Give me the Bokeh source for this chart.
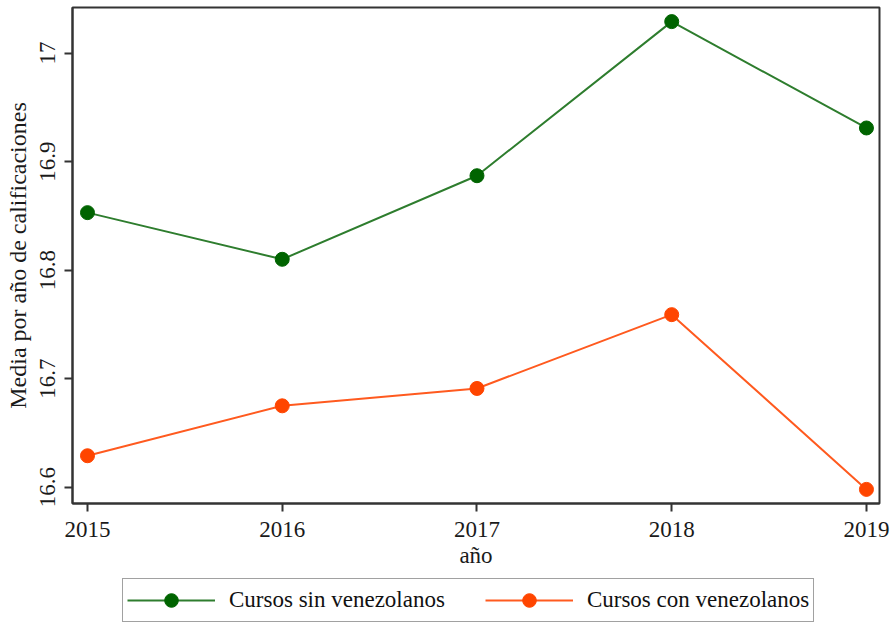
from bokeh.plotting import figure
from bokeh.models import Legend, LegendItem, FixedTicker, Range1d
from bokeh.layouts import column
from bokeh.embed import file_html
from bokeh.resources import INLINE

years = [2015, 2016, 2017, 2018, 2019]
sin_venez = [16.853, 16.810, 16.887, 17.029, 16.931]
con_venez = [16.629, 16.675, 16.691, 16.759, 16.598]
y_ticks = [16.6, 16.7, 16.8, 16.9, 17.0]
y_tick_labels = ["16.6", "16.7", "16.8", "16.9", "17"]
series_names = ["Cursos sin venezolanos", "Cursos con venezolanos"]

FONT = "Liberation Serif"
FS = "23px"
GREEN_LINE = "#2e7d2e"
GREEN_MARK = "#006400"
ORANGE_LINE = "#ff5a1f"
ORANGE_MARK = "#ff4500"

p = figure(width=892, height=576, output_backend="svg", toolbar_location=None,
           x_range=Range1d(2014.923, 2019.067), y_range=Range1d(16.585, 17.042),
           min_border_left=72, min_border_right=13, min_border_top=7, min_border_bottom=73)
p.background_fill_color = "white"
p.border_fill_color = "white"
p.outline_line_color = "#333333"
p.outline_line_width = 2
p.xgrid.visible = False
p.ygrid.visible = False

p.line(years, sin_venez, line_color=GREEN_LINE, line_width=2)
p.scatter(years, sin_venez, size=14, fill_color=GREEN_MARK, line_color=GREEN_MARK)
p.line(years, con_venez, line_color=ORANGE_LINE, line_width=2)
p.scatter(years, con_venez, size=14, fill_color=ORANGE_MARK, line_color=ORANGE_MARK)

for ax in (p.xaxis[0], p.yaxis[0]):
    ax.axis_line_color = "#333333"
    ax.axis_line_width = 2
    ax.major_tick_line_color = "#333333"
    ax.major_tick_line_width = 2
    ax.major_tick_out = 8
    ax.major_tick_in = 0
    ax.minor_tick_line_color = None
    ax.major_label_text_font = FONT
    ax.major_label_text_font_size = FS
    ax.major_label_text_color = "#1a1a1a"
    ax.axis_label_text_font = FONT
    ax.axis_label_text_font_size = FS
    ax.axis_label_text_font_style = "normal"
    ax.axis_label_text_color = "#1a1a1a"

p.xaxis.ticker = FixedTicker(ticks=years)
p.xaxis.axis_label = "año"
p.xaxis.major_label_standoff = 10
p.xaxis.axis_label_standoff = 3

p.yaxis.ticker = FixedTicker(ticks=y_ticks)
p.yaxis.major_label_overrides = {t: lab for t, lab in zip(y_ticks, y_tick_labels)}
p.yaxis.major_label_orientation = "parallel"
p.yaxis.axis_label = "Media por año de calificaciones"
p.yaxis.axis_label_text_font_size = "24px"
p.yaxis.major_label_standoff = 9
p.yaxis.axis_label_standoff = 7

# Legend strip below the chart; its renderers sit outside the strip's visible range
lf = figure(width=892, height=48, output_backend="svg", toolbar_location=None,
            x_range=Range1d(0, 1), y_range=Range1d(0, 1),
            min_border_left=0, min_border_right=0, min_border_top=0, min_border_bottom=0)
lf.axis.visible = False
lf.xgrid.visible = False
lf.ygrid.visible = False
lf.outline_line_color = None
lf.background_fill_color = "white"
lf.border_fill_color = "white"

g1 = lf.line(years, sin_venez, line_color=GREEN_LINE, line_width=2)
g1m = lf.scatter(years, sin_venez, size=14, fill_color=GREEN_MARK, line_color=GREEN_MARK)
o1 = lf.line(years, con_venez, line_color=ORANGE_LINE, line_width=2)
o1m = lf.scatter(years, con_venez, size=14, fill_color=ORANGE_MARK, line_color=ORANGE_MARK)

legend = Legend(items=[
    LegendItem(label=series_names[0], renderers=[g1, g1m]),
    LegendItem(label=series_names[1], renderers=[o1, o1m]),
], orientation="horizontal", location=(50, 2))
legend.label_text_font = FONT
legend.label_text_font_size = FS
legend.label_text_color = "#111111"
legend.glyph_width = 88
legend.glyph_height = 34
legend.label_standoff = 14
legend.spacing = 40
legend.padding = 4
legend.margin = 0
legend.border_line_color = "#444444"
legend.border_line_width = 1.5
legend.background_fill_color = "white"
lf.add_layout(legend, "center")

layout = column(p, lf, spacing=0)
open("out.html", "w").write(file_html(layout, INLINE))
